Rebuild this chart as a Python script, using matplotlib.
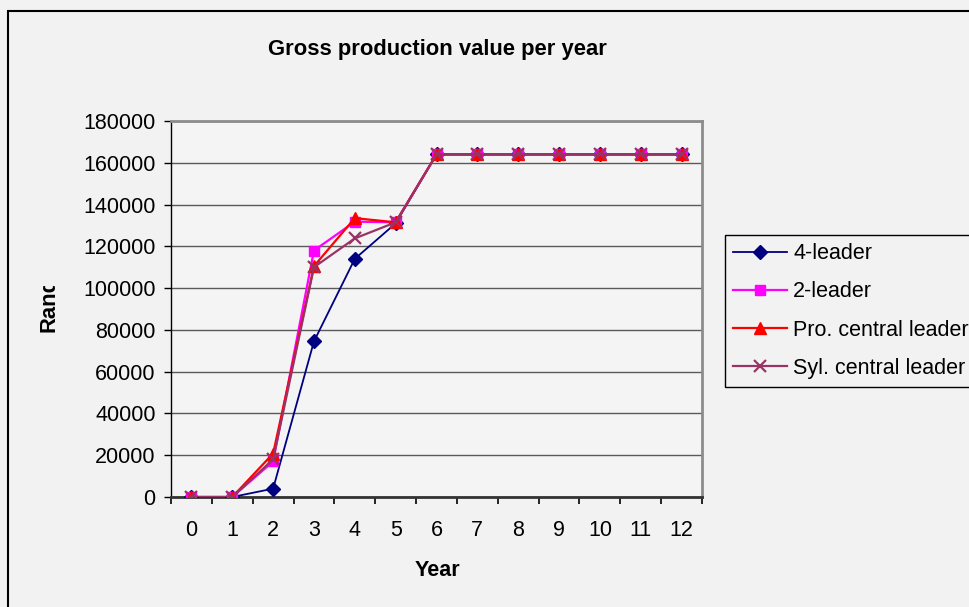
import matplotlib.pyplot as plt
import matplotlib.patches as mpatches
from matplotlib.transforms import Bbox
import numpy as np

plt.rcParams['font.family'] = ['Liberation Sans', 'DejaVu Sans']

years = list(range(13))
four_leader = [0, 0, 4000, 74500, 114000, 131000, 164000, 164000, 164000, 164000, 164000, 164000, 164000]
two_leader = [0, 0, 17000, 118000, 131800, 131500, 164000, 164000, 164000, 164000, 164000, 164000, 164000]
pro_central = [0, 0, 20800, 110500, 133500, 131500, 164000, 164000, 164000, 164000, 164000, 164000, 164000]
syl_central = [0, 0, 18000, 110000, 123800, 131500, 164000, 164000, 164000, 164000, 164000, 164000, 164000]

series_names = ['4-leader', '2-leader', 'Pro. central leader', 'Syl. central leader']
y_ticks = np.arange(0, 180001, 20000)

bg = '#f2f2f2'
fig = plt.figure(figsize=(9.7, 6.07), dpi=100, facecolor=bg)

# outer chart border (only left and top edges fall inside the image)
border = mpatches.Rectangle((8 / 970, -0.1), 1.2, 1 - 11 / 607 + 0.1,
                            transform=fig.transFigure, fill=False,
                            edgecolor='black', linewidth=1.5)
fig.patches.append(border)

ax = fig.add_axes([171 / 970, 1 - 497 / 607, (702 - 171) / 970, (497 - 121) / 607])
ax.set_facecolor('#f4f4f4')

x = np.array(years)
ax.plot(x, four_leader, color='#000080', marker='D', markersize=7, lw=1.3,
        label=series_names[0], zorder=3)
ax.plot(x, two_leader, color='#ff00ff', marker='s', markersize=7.5, lw=1.6,
        label=series_names[1], zorder=4)
ax.plot(x, pro_central, color='#ff0000', marker='^', markersize=9, lw=1.6,
        label=series_names[2], zorder=5)
ax.plot(x, syl_central, color='#993366', marker='x', markersize=9, mew=1.6, lw=1.6,
        label=series_names[3], zorder=6)

ax.set_xlim(-0.5, 12.5)
ax.set_ylim(0, 180000)

# category axis: ticks between categories, labels centred on them
ax.set_xticks(np.arange(-0.5, 13, 1))
ax.set_xticklabels([])
ax.set_xticks(x, minor=True)
ax.set_xticklabels([str(v) for v in years], minor=True)
ax.tick_params(axis='x', which='major', direction='out', length=5, width=1.2, color='black')
ax.tick_params(axis='x', which='minor', length=0, pad=16.5, labelsize=15.5)

ax.set_yticks(y_ticks)
ax.set_yticklabels([str(v) for v in y_ticks])
ax.tick_params(axis='y', direction='out', length=5, width=1, color='black', pad=6, labelsize=15.5)

ax.grid(axis='y', color='#5a5a5a', linewidth=1)
ax.set_axisbelow(True)

ax.spines['left'].set_color('black')
ax.spines['left'].set_linewidth(1)
ax.spines['bottom'].set_color('#333333')
ax.spines['bottom'].set_linewidth(2)
for side in ('top', 'right'):
    ax.spines[side].set_color('#8c8c8c')
    ax.spines[side].set_linewidth(2)

fig.text(437 / 970, 1 - 55 / 607, 'Gross production value per year', ha='center', va='baseline',
         fontsize=15.8, fontweight='bold')
fig.text(437 / 970, 1 - 570 / 607, 'Year', ha='center', va='center',
         fontsize=15.5, fontweight='bold')

# y label is cut off by the chart layout
ylab = fig.text(49 / 970, 1 - 332.5 / 607, 'Rand', ha='center', va='bottom', rotation=90,
                fontsize=15.8, fontweight='bold')
ylab.set_clip_box(Bbox([[0, 0], [970, 607 - 285.5]]))
ylab.set_clip_on(True)

leg = fig.legend(loc='upper left', bbox_to_anchor=(725 / 970, 1 - 235 / 607),
                 borderaxespad=0, fontsize=15.5, numpoints=1, handlelength=2.5,
                 handletextpad=0.28, labelspacing=0.8, borderpad=0.38,
                 fancybox=False, framealpha=1, facecolor=bg, edgecolor='black')
leg.get_frame().set_linewidth(1)

fig.savefig('out.png', dpi=100, facecolor=bg)
